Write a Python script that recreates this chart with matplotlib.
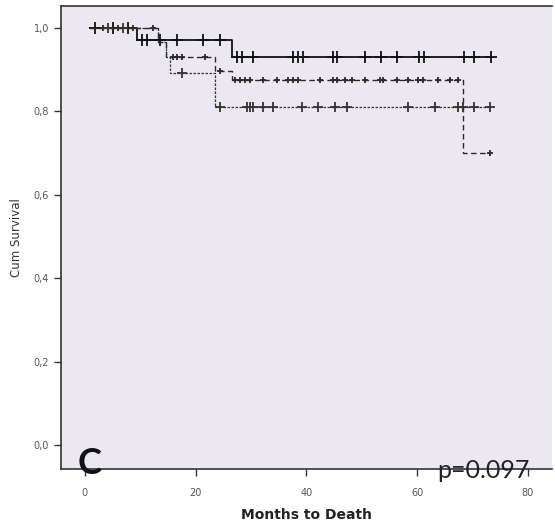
import numpy as np
import matplotlib
matplotlib.use("Agg")
import matplotlib.pyplot as plt

# group 1 (solid)
a_times = [1.0, 9.4, 26.6]
a_surv = [1.0, 0.97, 0.93]
a_end = 73.4
a_cens = [1.8, 5.1, 7.8, 10.3, 11.2, 13.6, 16.6, 21.3, 24.4, 27.5, 28.4, 30.4,
          37.6, 38.5, 39.4, 44.8, 45.6, 50.5, 53.5, 56.4, 60.4, 61.3, 68.4, 70.2, 73.4]

# group 2 (dashed)
b_times = [1.0, 13.2, 14.6, 23.5, 26.6, 68.2]
b_surv = [1.0, 0.965, 0.93, 0.895, 0.875, 0.70]
b_end = 73.1
b_cens = [3.3, 6.0, 8.7, 12.3, 15.9, 16.6, 17.5, 21.7, 24.4, 27.1, 28.0, 28.9, 29.8,
          32.2, 34.7, 36.7, 37.6, 38.5, 42.5, 44.8, 45.6, 47.0, 48.3, 50.5, 53.3,
          53.9, 56.4, 58.4, 60.2, 61.1, 63.7, 66.0, 67.3, 73.1]

# group 3 (fine dashes)
c_times = [1.0, 13.2, 14.6, 15.4, 23.5]
c_surv = [1.0, 0.965, 0.93, 0.89, 0.81]
c_end = 73.2
c_cens = [4.2, 6.9, 17.5, 24.4, 29.3, 29.8, 30.4, 32.2, 34.0, 39.2, 42.1, 45.2,
          47.4, 58.4, 63.3, 67.3, 68.2, 70.2, 73.2]

x_ticks = [0, 20, 40, 60, 80]
y_ticks = [0.0, 0.2, 0.4, 0.6, 0.8, 1.0]
y_ticklabels = ["0,0", "0,2", "0,4", "0,6", "0,8", "1,0"]


def surv_at(t, times, surv):
    idx = np.searchsorted(times, t, side="right") - 1
    return np.array(surv)[np.clip(idx, 0, len(surv) - 1)]


fig = plt.figure(figsize=(5.55, 5.31), dpi=100)
ax = fig.add_axes([0.110, 0.117, 0.885, 0.872])
ax.set_facecolor("#ebe8f2")

curves = [
    (a_times, a_surv, a_end, a_cens, "-", 1.3, "#111111", 8),
    (b_times, b_surv, b_end, b_cens, (0, (4, 2.5)), 1.0, "#2a2a2a", 5),
    (c_times, c_surv, c_end, c_cens, (0, (2, 1.2)), 0.9, "#333333", 7),
]
for times, surv, end, cens, ls, lw, col, ms in curves:
    xs = list(times) + [end]
    ys = list(surv) + [surv[-1]]
    ax.step(xs, ys, where="post", linestyle=ls, linewidth=lw, color=col)
    ax.plot(cens, surv_at(np.array(cens), times, surv), linestyle="none",
            marker="+", markersize=ms, markeredgewidth=1.3, color=col)

ax.set_xlim(-4.3, 84.4)
ax.set_ylim(-0.057, 1.052)
ax.set_xticks(x_ticks)
ax.set_yticks(y_ticks)
ax.set_yticklabels(y_ticklabels)
ax.tick_params(axis="both", labelsize=7, labelcolor="#555555", color="#333333",
               length=5, width=1)
ax.tick_params(axis="x", pad=9)

for side in ["left", "bottom", "top"]:
    ax.spines[side].set_color("#333333")
    ax.spines[side].set_linewidth(1.2)
ax.spines["right"].set_visible(False)

ax.set_ylabel("Cum Survival", fontsize=8.5, color="#333333", labelpad=8)
ax.set_xlabel("Months to Death", fontsize=10, color="#222222",
              fontweight="semibold", labelpad=7)

fig.text(0.14, 0.108, "C", fontsize=26, fontweight="bold", family="Lato",
         color="#111111", ha="left", va="baseline")
fig.text(0.787, 0.100, "p=0.097", fontsize=18, family="Lato",
         color="#222222", ha="left", va="baseline")

fig.savefig("out.png", dpi=100)
